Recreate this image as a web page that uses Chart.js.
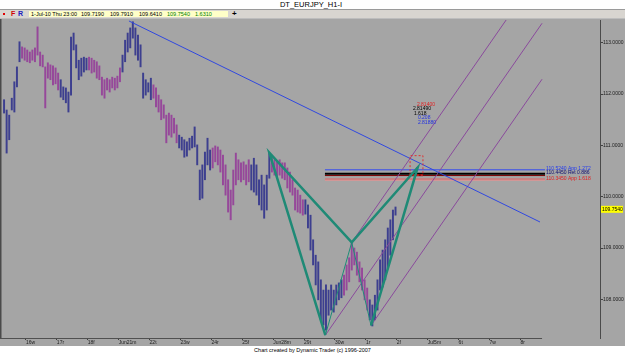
<!DOCTYPE html>
<html><head><meta charset="utf-8">
<script src="https://cdn.jsdelivr.net/npm/chart.js@4/dist/chart.umd.min.js"></script>
<style>
body{margin:0;background:#fff;}
#wrap{position:relative;width:625px;height:355px;overflow:hidden;background:#a5a5a5;}
canvas{position:absolute;left:0;top:0;}
.t{position:absolute;white-space:nowrap;font-family:'Liberation Sans',Arial,sans-serif;color:#000;}
.b{position:absolute;}
</style></head><body>
<div id="wrap">
<canvas id="c" width="625" height="355"></canvas>
<div class="b" style="left:0;top:0;width:625px;height:9px;background:#fff;"></div>
<div class="t" style="left:0;top:0;width:622px;text-align:center;font-size:7.5px;line-height:10px;">DT_EURJPY_H1-I</div>
<div class="b" style="left:0;top:9px;width:625px;height:1px;background:#9a9a9a"></div>
<div class="b" style="left:0;top:10px;width:625px;height:8px;background:#d8d5d0"></div>
<div class="b" style="left:0;top:18px;width:625px;height:1px;background:#bdbdbd"></div>
<div class="b" style="left:3px;top:13px;width:2px;height:2px;background:#e00000"></div>
<div class="t" style="left:11px;top:10px;font-size:7px;line-height:8px;font-weight:bold;color:#d00000">F</div>
<div class="t" style="left:18px;top:10px;font-size:7px;line-height:8px;font-weight:bold;color:#2020c0">R</div>
<div class="b" style="left:29px;top:11px;width:199px;height:6px;background:#ffffc8"></div>
<div class="t" style="left:31px;top:10px;font-size:5.5px;line-height:8px;">1-Jul-10 Thu 23:00</div>
<div class="t" style="left:81px;top:10px;font-size:5.5px;line-height:8px;">109.7190</div>
<div class="t" style="left:110px;top:10px;font-size:5.5px;line-height:8px;">109.7910</div>
<div class="t" style="left:139px;top:10px;font-size:5.5px;line-height:8px;">109.6410</div>
<div class="t" style="left:167px;top:10px;font-size:5.5px;line-height:8px;color:#008000">109.7540</div>
<div class="t" style="left:195px;top:10px;font-size:5.5px;line-height:8px;color:#008000">1.6310</div>
<div class="t" style="left:232px;top:9px;font-size:8px;line-height:9px;font-weight:bold">+</div>
<div class="b" style="left:0;top:346px;width:625px;height:9px;background:#fff"></div>
<div class="t" style="left:0;top:346px;width:625px;text-align:center;font-size:5.5px;line-height:9px">Chart created by Dynamic Trader (c) 1996-2007</div>
</div>
<script>
// ---- data ----
const dayLabels = ['16w','17r','18f','Jun21m','22t','23w','24r','25f','Jun28m','29t','30w','1r','2f','Jul5m','6t','7w','8r'];
const priceTicks = [108,109,110,111,112,113];
// two-hour bars starting Jun 15 07:00 (hours relative to Jun 16 00:00)
const firstBarHour = -17;
const highs = [111.89,111.69,111.59,111.92,112.24,112.53,113.02,112.92,112.90,112.86,
112.82,112.86,112.90,113.31,112.82,112.76,112.53,112.61,112.57,112.55,
112.51,112.41,112.28,112.14,112.12,112.04,113.11,113.19,112.96,112.66,
112.70,112.72,112.70,112.72,112.70,112.66,112.63,112.55,112.33,112.28,
112.31,112.28,112.33,112.31,112.35,112.51,112.76,113.05,113.19,113.29,
113.41,113.29,113.15,112.96,112.41,112.28,112.22,112.31,112.18,112.12,
111.98,111.89,111.79,111.59,111.63,111.59,111.53,111.40,111.20,111.16,
111.11,111.07,111.14,111.18,111.36,111.01,110.52,110.62,110.87,111.14,
110.91,110.95,110.99,110.97,110.91,110.81,110.62,110.33,110.13,110.52,
110.85,110.72,110.66,110.68,110.62,110.72,110.62,110.75,110.62,110.33,
110.42,110.23,110.42,110.85,110.75,110.72,110.68,110.72,110.66,110.66,
110.56,110.48,110.33,110.17,110.13,110.03,109.94,109.94,109.84,109.64,
109.16,108.86,108.73,108.38,108.18,108.28,108.18,108.28,108.18,108.28,
108.32,108.38,108.47,108.67,108.81,109.12,109.00,108.92,108.73,108.61,
108.38,108.22,107.99,107.89,108.08,108.38,108.77,108.96,109.16,109.39,
109.55,109.74,109.80];
const lows = [111.63,110.85,111.11,111.69,111.65,112.14,112.63,112.70,112.66,112.63,
112.61,112.66,112.63,112.76,112.55,112.53,111.73,112.31,112.28,112.18,
112.20,112.08,111.94,111.89,111.83,111.65,111.98,112.86,112.51,112.28,
112.35,112.43,112.47,112.47,112.41,112.43,112.31,112.28,111.98,111.92,
112.08,112.04,112.12,112.08,112.12,112.24,112.43,112.63,112.82,112.90,
113.09,112.76,112.66,112.53,111.92,111.98,112.04,111.89,111.92,111.75,
111.65,111.50,111.53,111.05,111.20,111.16,111.24,111.05,110.95,110.91,
110.77,110.79,110.91,110.95,110.97,110.62,109.94,109.97,110.33,110.62,
110.52,110.56,110.68,110.62,110.48,110.23,110.03,109.70,109.55,109.84,
110.23,110.33,110.29,110.33,110.23,110.29,110.13,110.09,110.03,109.84,
109.74,109.58,109.74,110.36,110.48,110.42,110.38,110.42,110.36,110.33,
110.17,110.09,110.03,109.74,109.70,109.68,109.64,109.66,109.39,108.96,
108.67,108.28,107.99,107.60,107.50,107.40,107.69,107.79,107.75,107.89,
107.99,108.03,108.08,108.18,108.34,108.57,108.67,108.47,108.34,108.18,
107.99,107.79,107.60,107.48,107.60,107.79,108.18,108.24,108.38,108.61,
108.86,109.16,109.64];
const lastClose = 109.754;
// harmonic pattern points X, A, B, C, D
const patternHours = [189.0, 232.5, 253.0, 268.0, 304.2];
const patternPrices = [110.86, 107.30, 109.11, 107.49, 110.57];
// trend line
const trendHours = [80.0, 399.2];
const trendPrices = [113.425, 109.507];
// parallel lines (start hour/price, end hour/price)
const forkStartHours = [253.0, 232.5, 268.0];
const forkStartPrices = [109.11, 107.30, 107.49];
const forkEndHours = [372.9, 400.8, 400.8];
const forkEndPrices = [113.444, 113.38, 112.29];
// level lines
const levelStartHour = 232.2, levelEndHour = 403.1;
const levelPrices = [110.524, 110.445, 110.412, 110.345, 110.322];
const levelTexts = ['110.5240 App 1.272','110.4450 Ret 0.886','110.3450 App 1.618'];
const levelTextPrices = [110.55, 110.46, 110.36];
// completion box
const boxHours = [298.3, 308.3];
const boxPrices = [110.42, 110.80];
const ratioTexts = ['2.81400','2.81490','1.618','0.208','2.81880'];

// ---- styles ----
const BLUE = '#3d3f8f', PURPLE = '#96489a';
const colorRuns = [[0,6,BLUE],[7,21,PURPLE],[22,32,BLUE],[33,45,PURPLE],[46,57,BLUE],[58,67,PURPLE],
 [68,80,BLUE],[81,95,PURPLE],[96,103,BLUE],[104,116,PURPLE],[117,131,BLUE],[132,141,PURPLE],[142,152,BLUE]];
function barColor(i){ for(const r of colorRuns){ if(i>=r[0]&&i<=r[1]) return r[2]; } return BLUE; }
const levelColors = ['#3048f0','#000000','#7a0000','#e06060','#e89090'];
const levelWidths = [1,2,1,1,1];
const levelTextColors = ['#2038f0','#101070','#e02020'];
const ratioColors = ['#e02020','#000','#000','#2030e0','#2030e0'];
const ratioOffsets = [[4,0],[0,4.5],[1,9],[5,13.5],[5,18]];
const ratioAnchor = {h: 300.5, p: 111.80};
const axisEndHour = 400.8;

const barTimes = highs.map((_, i) => firstBarHour + 2*i);
const bars = barTimes.map((t,i)=>({x:t, y:[lows[i], highs[i]]}));
const dayTicks = dayLabels.map((_, i) => i*24);
const pt = (h,p)=>({x:h,y:p});

const datasets = [];
datasets.push({type:'bar', data:bars, backgroundColor:(c)=>barColor(c.dataIndex), borderWidth:0, barThickness:1.3, order:10});
levelPrices.forEach((p,i)=>datasets.push({type:'line', data:[pt(levelStartHour,p),pt(levelEndHour,p)], borderColor:levelColors[i], borderWidth:levelWidths[i], pointRadius:0, order:3}));
datasets.push({type:'line', data:[pt(trendHours[0],trendPrices[0]),pt(trendHours[1],trendPrices[1])], borderColor:'#3048e0', borderWidth:1, pointRadius:0, order:2});
forkStartHours.forEach((h,i)=>datasets.push({type:'line', data:[pt(h,forkStartPrices[i]),pt(forkEndHours[i],forkEndPrices[i])], borderColor:'#8a4a9c', borderWidth:1, pointRadius:0, order:2}));
datasets.push({type:'line', data:[1,2,3].map(k=>pt(patternHours[k],patternPrices[k])), borderColor:'#1f8c78', borderWidth:1, pointRadius:0, order:1});
datasets.push({type:'line', data:[1,0,2,4,3].map(k=>pt(patternHours[k],patternPrices[k])), borderColor:'#1f8a76', borderWidth:2.5, pointRadius:0, order:0, borderJoinStyle:'miter'});
datasets.push({type:'line', data:[pt(boxHours[0],boxPrices[0]),pt(boxHours[0],boxPrices[1]),pt(boxHours[1],boxPrices[1]),pt(boxHours[1],boxPrices[0]),pt(boxHours[0],boxPrices[0])], borderColor:'#e03030', borderWidth:1, borderDash:[2,2], pointRadius:0, order:0});
datasets.push({type:'line', data:[pt(boxHours[0],boxPrices[0]),pt(boxHours[1],boxPrices[0])], borderColor:'#900000', borderWidth:2, pointRadius:0, order:0});

const extras = {
  id:'extras',
  afterDatasetsDraw(chart){
    const c = chart.ctx, xs = chart.scales.x, ys = chart.scales.y, a = chart.chartArea;
    c.save();
    c.fillStyle = '#4a4a4a'; c.fillRect(0, a.top-1, 1.5, a.bottom-a.top+1);
    c.strokeStyle = '#505050'; c.lineWidth = 1;
    c.beginPath(); c.moveTo(0, a.bottom+0.5); c.lineTo(xs.getPixelForValue(axisEndHour), a.bottom+0.5); c.stroke();
    c.font = '5px "Liberation Sans", Arial'; c.textBaseline = 'middle'; c.textAlign = 'left';
    levelTexts.forEach((t,i)=>{ c.fillStyle = levelTextColors[i]; c.fillText(t, xs.getPixelForValue(levelEndHour)+1, ys.getPixelForValue(levelTextPrices[i])); });
    const ax = xs.getPixelForValue(ratioAnchor.h), ay = ys.getPixelForValue(ratioAnchor.p);
    ratioTexts.forEach((t,i)=>{ c.fillStyle = ratioColors[i]; c.fillText(t, ax+ratioOffsets[i][0], ay+ratioOffsets[i][1]); });
    const ly = ys.getPixelForValue(lastClose);
    c.fillStyle = '#ffff00'; c.fillRect(a.right+1, ly-3.5, 22, 7);
    c.fillStyle = '#000'; c.fillText(lastClose.toFixed(4), a.right+2, ly);
    c.restore();
  }
};

new Chart(document.getElementById('c'), {
  data:{datasets},
  options:{
    responsive:false, animation:false, events:[],
    layout:{padding:{left:2, top:20, right:0, bottom:9}},
    plugins:{legend:{display:false}, tooltip:{enabled:false}},
    scales:{
      x:{type:'linear', min:-18.6, max:445.8, offset:false,
        afterBuildTicks:(s)=>{ s.ticks = dayTicks.map(v=>({value:v})); },
        afterFit:(s)=>{ s.height = 8; },
        grid:{display:true, drawOnChartArea:false, offset:false, tickLength:2, color:'#404040'},
        border:{display:false},
        ticks:{align:'start', padding:0, font:{size:5, family:'"Liberation Sans", Arial'}, color:'#202020', maxRotation:0, autoSkip:false,
          callback:(v)=>dayLabels[Math.round(v/24)]}
      },
      y:{type:'linear', position:'right', min:107.246, max:113.444,
        afterBuildTicks:(s)=>{ s.ticks = priceTicks.map(v=>({value:v})); },
        afterFit:(s)=>{ s.width = 25; },
        grid:{display:true, drawOnChartArea:false, tickLength:3, color:'#404040'},
        border:{display:true, color:'#4a4a4a', width:1},
        ticks:{padding:0, font:{size:5, family:'"Liberation Sans", Arial'}, color:'#202020',
          callback:(v)=>v.toFixed(4)}
      }
    }
  },
  plugins:[extras]
});
</script>
</body></html>
